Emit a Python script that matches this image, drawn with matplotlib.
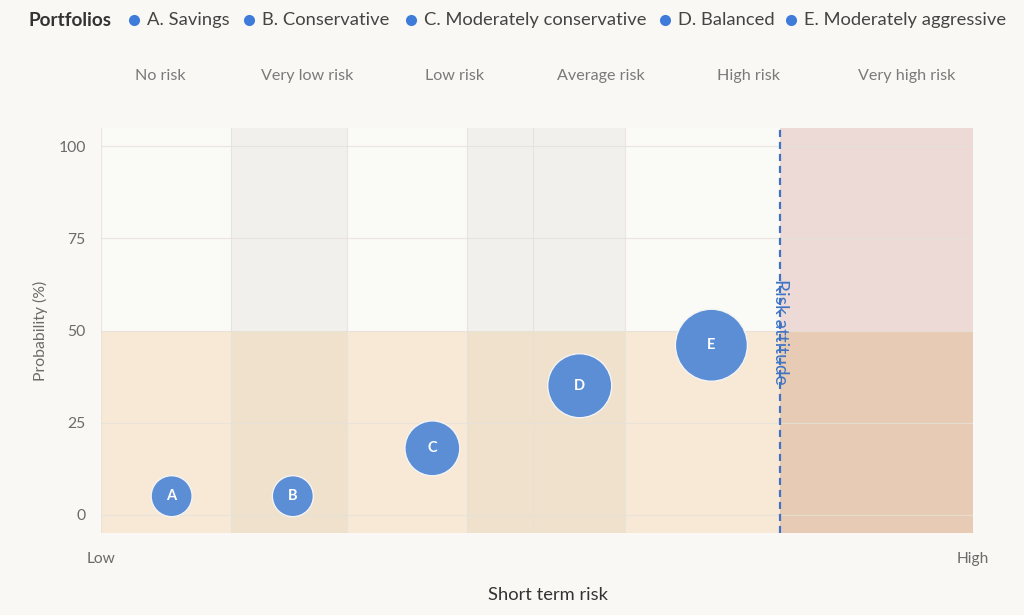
import matplotlib
matplotlib.use("Agg")
import matplotlib.pyplot as plt
from matplotlib.patches import Rectangle
from matplotlib.lines import Line2D
import numpy as np

plt.rcParams['font.family'] = ['Lato', 'DejaVu Sans']

# ---- data ----
portfolio_labels = ["A. Savings", "B. Conservative", "C. Moderately conservative",
                    "D. Balanced", "E. Moderately aggressive"]
portfolio_codes = ["A", "B", "C", "D", "E"]
short_term_risk = [8.1, 22.0, 38.0, 54.9, 70.0]   # 0 = Low, 100 = High
probability = [5, 5, 18, 35, 46]                  # %
bubble_z = [1, 1, 4.8, 7.9, 11]

risk_categories = ["No risk", "Very low risk", "Low risk", "Average risk",
                   "High risk", "Very high risk"]
category_centers = [6.8, 23.7, 40.6, 57.3, 74.2, 92.4]
band_edges = [0, 14.9, 28.2, 42.0, 49.5, 60.1, 77.9, 100]
grey_bands = [(14.9, 28.2), (42.0, 60.1)]
risk_attitude = 77.9
prob_threshold = 50
y_ticks = [0, 25, 50, 75, 100]

# ---- figure ----
W, H = 1024, 615
fig = plt.figure(figsize=(W / 100, H / 100), dpi=100)
bg = "#F9F8F4"
fig.patch.set_facecolor(bg)

ax = fig.add_axes([101 / W, 1 - 533 / H, (973 - 101) / W, (533 - 128) / H])
ax.set_xlim(0, 100)
ax.set_ylim(-5, 105)
ax.set_facecolor("#FAFAF7")
for s in ax.spines.values():
    s.set_visible(False)

y0, y1 = -5, 105

def region(x0, x1, ya, yb, c):
    ax.add_patch(Rectangle((x0, ya), x1 - x0, yb - ya, facecolor=c, edgecolor="none", zorder=0))

region(0, 100, prob_threshold, y1, "#FAFAF7")
region(0, 100, y0, prob_threshold, "#F7E9D6")
for a, b in grey_bands:
    region(a, b, prob_threshold, y1, "#F1F0EC")
    region(a, b, y0, prob_threshold, "#EFE1CC")
region(risk_attitude, 100, prob_threshold, y1, "#EDDAD6")
region(risk_attitude, 100, y0, prob_threshold, "#E8CBB4")

# grid lines
for yt in y_ticks:
    ax.axhline(yt, color="#E6E2DA", lw=0.8, zorder=1, alpha=0.8)
for xe in band_edges[:-1]:
    if xe == risk_attitude:
        continue
    ax.axvline(xe, color="#E6E2DA", lw=0.8, zorder=1, alpha=0.8)

# risk attitude line
ax.axvline(risk_attitude, color="#3F74C4", lw=1.6, ls=(0, (3.2, 2.2)), zorder=2)
ax.text(risk_attitude, 64, "Risk attitude", rotation=270, ha="center", va="top",
        color="#3F74C4", fontsize=13.8, zorder=3)

# bubbles
z = np.array(bubble_z, dtype=float)
rmin, rmax = 20.5, 36.0
r_px = np.sqrt(rmin ** 2 + (rmax ** 2 - rmin ** 2) * (z - z.min()) / (z.max() - z.min()))
sizes = (2 * r_px * 0.72) ** 2
ax.scatter(short_term_risk, probability, s=sizes, color="#5C8ED5",
           edgecolors="#F4F4F4", linewidths=1.0, zorder=4)
for x, y, c in zip(short_term_risk, probability, portfolio_codes):
    ax.text(x, y, c, color="white", fontsize=10.5, fontweight="bold",
            ha="center", va="center", zorder=5)

# axes ticks
ax.set_yticks(y_ticks)
ax.set_yticklabels([str(v) for v in y_ticks])
ax.set_xticks([0, 100])
ax.set_xticklabels(["Low", "High"])
ax.tick_params(axis="y", length=0, pad=11, labelsize=11.3, labelcolor="#6B6B6B")
ax.tick_params(axis="x", length=0, pad=14, labelsize=11.2, labelcolor="#6B6B6B")

fig.text(40 / W, 1 - 331 / H, "Probability (%)", rotation=90, ha="center", va="center",
         fontsize=11.3, color="#6B6B6B")
fig.text(548 / W, 1 - 595 / H, "Short term risk", ha="center", va="center",
         fontsize=13.2, color="#333333")

# category labels above plot
for cx, lab in zip(category_centers, risk_categories):
    px = 101 + cx * (973 - 101) / 100
    fig.text(px / W, 1 - 76 / H, lab, ha="center", va="center", fontsize=11.6, color="#7A7A7A")

# legend
fig.text(28 / W, 1 - 20 / H, "Portfolios", ha="left", va="center", fontsize=13.6,
         color="#333333", fontweight="bold")
dot_x = [134, 249, 411, 665, 791]
for dx, lab in zip(dot_x, portfolio_labels):
    fig.add_artist(Line2D([dx / W], [1 - 20 / H], marker="o", markersize=8,
                          markerfacecolor="#3F7BD9", markeredgecolor="none",
                          linestyle="none", transform=fig.transFigure))
    fig.text((dx + 13) / W, 1 - 20 / H, lab, ha="left", va="center", fontsize=13.2,
             color="#444444")

fig.savefig("out.png", dpi=100, facecolor=bg)
